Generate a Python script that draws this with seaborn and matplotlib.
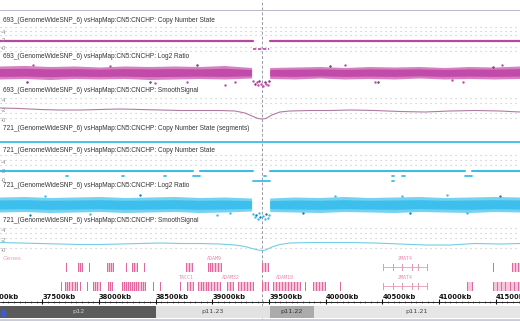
import numpy as np
import pandas as pd
import matplotlib
matplotlib.use('Agg')
import matplotlib.pyplot as plt
from matplotlib.patches import Rectangle
import seaborn as sns

sns.set_style('white')
plt.rcParams['font.family'] = ['Liberation Sans', 'DejaVu Sans']

# ---- data (chr8, positions in kb) ----
view_kb = [37127, 41713]
cursor_kb = 39437

# copy number segments (start, end, state)
cn693_segs = [(37127, 39358, 2), (39508, 41713, 2)]
cn693_del = [(39358, 39500, 0)]
seg721 = [(37127, 41713, 2)]
cn721_segs = [(37127, 38829, 2), (38891, 39358, 2), (39508, 41228, 2), (41290, 41713, 2)]
cn721_low = [(38829, 38891, 1), (41228, 41290, 1), (37712, 37724, 1), (38206, 38218, 1),
             (38576, 38588, 1), (39458, 39472, 1), (40588, 40598, 1), (40668, 40702, 1)]
cn721_zero = [(39358, 39508, 0), (40588, 40598, 0)]

# log2 ratio clouds: envelope of the dense point cloud
env_kb = [37127, 37350, 37570, 37790, 38010, 38230, 38450, 38670, 38890, 39110, 39350,
          39430, 39510, 39730, 39950, 40170, 40390, 40610, 40830, 41050, 41270, 41490, 41713]
hi693 = [1.3, 1.4, 1.2, 1.3, 1.1, 1.3, 1.2, 1.3, 1.2, 1.4, 1.0, np.nan,
         1.0, 1.1, 1.2, 1.0, 1.2, 1.1, 1.2, 1.0, 1.2, 1.1, 1.3]
lo693 = [-1.3, -1.2, -1.4, -1.2, -1.3, -1.2, -1.4, -1.3, -1.2, -1.3, -1.1, np.nan,
         -1.2, -1.3, -1.1, -1.3, -1.2, -1.3, -1.1, -1.3, -1.2, -1.3, -1.2]
hi721 = [1.5, 1.6, 1.4, 1.5, 1.6, 1.4, 1.5, 1.6, 1.4, 1.5, 1.3, np.nan,
         1.3, 1.5, 1.4, 1.6, 1.4, 1.5, 1.6, 1.4, 1.5, 1.6, 1.5]
lo721 = [-1.5, -1.4, -1.6, -1.5, -1.4, -1.6, -1.5, -1.4, -1.6, -1.5, -1.3, np.nan,
         -1.4, -1.5, -1.6, -1.4, -1.5, -1.6, -1.4, -1.5, -1.6, -1.4, -1.5]
out693_kb = [37365, 37418, 38097, 38450, 38494, 38776, 38864, 39111, 39199, 40037, 40169,
             40434, 40460, 41113, 41210, 41474, 41554,
             39360, 39375, 39390, 39400, 39415, 39425, 39450, 39465, 39475, 39490, 39500]
out693_v = [-1.8, 1.6, 1.4, -1.8, -2.0, -1.8, 1.6, -2.4, -1.8, 1.4, 1.6,
            -1.8, -1.8, -1.5, -1.8, 1.2, 1.6,
            -1.6, -2.2, -1.9, -2.5, -1.7, -2.3, -2.6, -1.8, -2.2, -2.4, -1.7]
out721_kb = [37392, 37524, 37921, 38362, 39040, 39155, 39799, 40081, 40672, 40742, 41069,
             41246, 41536,
             39360, 39372, 39385, 39398, 39410, 39422, 39450, 39462, 39475, 39488, 39500]
out721_v = [-2.0, 1.8, -1.8, 2.0, -2.0, -1.7, -1.7, 1.7, 1.8, -1.7, 2.0,
            -1.6, 1.8,
            -1.8, -2.4, -2.0, -2.8, -1.7, -2.5, -2.2, -2.9, -1.9, -2.6, -2.1]

# smoothed signal
smooth_kb = [37127, 37303, 37480, 37656, 37833, 38009, 38185, 38362, 38538, 38714, 38891,
             39067, 39199, 39287, 39349, 39402, 39437, 39472, 39525, 39596, 39684, 39860,
             40037, 40213, 40434, 40654, 40875, 41095, 41316, 41536, 41713]
smooth693 = [2.4, 2.3, 2.1, 2.0, 2.0, 2.1, 2.2, 2.1, 2.0, 1.9, 1.9, 1.9, 1.8, 1.4, 0.8, 0.3,
             0.2, 0.3, 1.0, 1.6, 1.8, 1.9, 1.9, 2.0, 1.9, 1.7, 1.6, 1.8, 1.9, 1.8, 1.6]
smooth721 = [1.5, 1.4, 1.3, 1.2, 1.1, 1.1, 1.2, 1.3, 1.4, 1.3, 1.3, 1.2, 1.0, 0.7, 0.3, 0.0,
             -0.1, 0.0, 0.6, 1.1, 1.4, 1.5, 1.5, 1.5, 1.4, 1.2, 1.0, 1.0, 1.3, 1.2, 1.3]

# genes
row1_spans = [(37815, 37850), (38071, 38124), (38291, 38335), (38767, 38829), (38962, 39076),
              (39437, 39490), (41643, 41713)]
row1_exons = [37709, 37815, 37833, 37850, 37912, 38071, 38088, 38106, 38124, 38238, 38291,
              38309, 38335, 38397, 38767, 38794, 38820, 38962, 38979, 38997, 39023, 39050,
              39076, 39437, 39464, 39490, 41475, 41643, 41669, 41695]
row2_spans = [(37700, 37806), (37947, 38009), (38080, 38115), (38203, 38406), (38776, 38829),
              (38873, 39067), (39129, 39182), (39226, 39358), (39437, 39490), (39534, 39773),
              (39887, 39993), (41246, 41290), (41475, 41713)]
row2_exons = [37665, 37700, 37718, 37736, 37762, 37788, 37806, 37833, 37894, 37947, 37965,
              37983, 38009, 38080, 38097, 38115, 38203, 38221, 38238, 38256, 38274, 38291,
              38309, 38327, 38344, 38371, 38388, 38406, 38476, 38538, 38714, 38776, 38803,
              38829, 38873, 38900, 38917, 38944, 38962, 38988, 39014, 39041, 39067, 39129,
              39155, 39182, 39226, 39252, 39279, 39305, 39332, 39358, 39437, 39464, 39490,
              39534, 39561, 39587, 39614, 39640, 39667, 39693, 39720, 39746, 39773, 39817,
              39887, 39914, 39940, 39967, 39993, 40125, 41246, 41290, 41475, 41510, 41545,
              41580, 41625, 41660, 41695]
zmat4_span = (40505, 40893)
zmat4_exons = [40505, 40593, 40672, 40760, 40813, 40893]
gene_labels = [('ADAM9', 39020, 1), ('ZMAT4', 40700, 1), ('TACC1', 38770, 2),
               ('ADAM32', 39160, 2), ('ADAM18', 39640, 2), ('ZMAT4', 40700, 2)]

ruler_ticks = [37000, 37500, 38000, 38500, 39000, 39500, 40000, 40500, 41000, 41500]
bands = ['p12', 'p11.23', 'p11.22', 'p11.21']
band_start = [36500, 38503, 39508, 39896]
band_end = [38503, 39508, 39896, 43100]

track_titles = [
    '693_(GenomeWideSNP_6) vsHapMap:CN5:CNCHP: Copy Number State',
    '693_(GenomeWideSNP_6) vsHapMap:CN5:CNCHP: Log2 Ratio',
    '693_(GenomeWideSNP_6) vsHapMap:CN5:CNCHP: SmoothSignal',
    '721_(GenomeWideSNP_6) vsHapMap:CN5:CNCHP: Copy Number State (segments)',
    '721_(GenomeWideSNP_6) vsHapMap:CN5:CNCHP: Copy Number State',
    '721_(GenomeWideSNP_6) vsHapMap:CN5:CNCHP: Log2 Ratio',
    '721_(GenomeWideSNP_6) vsHapMap:CN5:CNCHP: SmoothSignal',
]

# ---- style ----
W, H = 520, 321
MAG = '#b8479e'
MAG_PT = '#c24aa8'
MAG_SM = '#b07ca2'
CYA = '#3bbde8'
CYA_PT = '#3cbfec'
CYA_SM = '#74cde2'
GRIDC = '#c4c4c4'
PINK = '#e3679f'
PINK_L = '#f6c7db'

fig = plt.figure(figsize=(W / 100, H / 100), dpi=100)


def track(top, bottom):
    return fig.add_axes([0, 1 - bottom / H, 1, (bottom - top) / H])


def finish(ax, top, bottom, y0, s):
    ax.set_xlim(*view_kb)
    ax.set_ylim((y0 - bottom) / s, (y0 - top) / s)
    ax.axis('off')


def seg_df(segs):
    rows = [(i, x, v) for i, (a, b, v) in enumerate(segs) for x in (a, b)]
    return pd.DataFrame(rows, columns=['seg', 'kb', 'cn'])


def draw_segs(ax, segs, color, lw, **kw):
    sns.lineplot(data=seg_df(segs), x='kb', y='cn', units='seg', estimator=None,
                 color=color, lw=lw, ax=ax, legend=False, **kw)


def dotted_rows(ax, levels):
    for v in levels:
        ax.axhline(v, color=GRIDC, lw=0.8, ls=(0, (1, 3.5)), zorder=0)


def scale(ax, labels):
    for lab in labels:
        ax.text(view_kb[0] + 8, lab, '-' + str(lab), fontsize=4.3, color='#888888',
                va='center', ha='left')


def cloud(ax, hi, lo, color, pts_kb, pts_v, dark):
    ax.fill_between(env_kb, lo, hi, color=color, alpha=0.7, lw=0)
    core_hi = [h * 0.6 for h in hi]
    core_lo = [l * 0.6 for l in lo]
    ax.fill_between(env_kb, core_lo, core_hi, color=color, alpha=1.0, lw=0)
    sns.scatterplot(x=pts_kb, y=pts_v, color=color, s=3, linewidth=0, ax=ax)
    sns.scatterplot(x=pts_kb[::3], y=pts_v[::3], color=dark, s=2, linewidth=0, ax=ax)


# track 1: 693 copy number state
ax = track(23, 52)
dotted_rows(ax, [5.5, 4.5, 3.5, 0.5, -0.5])
draw_segs(ax, cn693_segs, MAG, 1.6)
draw_segs(ax, cn693_del, MAG, 1.2, dashes=(2, 1))
scale(ax, [4, 2, 0])
finish(ax, 23, 52, 48.5, 4)

# track 2: 693 log2 ratio
ax = track(60, 89)
cloud(ax, hi693, lo693, MAG_PT, out693_kb, out693_v, '#6a4a6a')
finish(ax, 60, 89, 73, 5)

# track 3: 693 smooth signal
ax = track(95, 124)
dotted_rows(ax, [4.5, 3.5, 1.5, 0.5])
sns.lineplot(x=smooth_kb, y=smooth693, color=MAG_SM, lw=0.8, ax=ax)
scale(ax, [4, 2, 0])
finish(ax, 95, 124, 120, 5)

# track 4: 721 segments
ax = track(132, 148)
draw_segs(ax, seg721, CYA, 1.3)
finish(ax, 132, 148, 151.2, 4.6)

# track 5: 721 copy number state
ax = track(153, 184)
dotted_rows(ax, [5.5, 4.5, 3.5])
draw_segs(ax, cn721_segs, CYA, 1.5)
draw_segs(ax, cn721_low, CYA, 1.3)
draw_segs(ax, cn721_zero, CYA, 1.3)
scale(ax, [4, 2, 0])
finish(ax, 153, 184, 180.7, 4.6)

# track 6: 721 log2 ratio
ax = track(190, 220)
cloud(ax, hi721, lo721, CYA_PT, out721_kb, out721_v, '#2a70a8')
finish(ax, 190, 220, 205, 5)

# track 7: 721 smooth signal
ax = track(225, 254)
dotted_rows(ax, [4.5, 3.5, 2.5, 0.5])
sns.lineplot(x=smooth_kb, y=smooth721, color=CYA_SM, lw=0.8, ax=ax)
scale(ax, [4, 2, 0])
finish(ax, 225, 254, 250, 5)

# gene track
ax = track(255, 294)
for row, spans, exons, top in [(1, row1_spans, row1_exons, 263), (2, row2_spans, row2_exons, 282)]:
    ax.bar([a for a, b in spans], 9, width=[b - a for a, b in spans], bottom=top,
           align='edge', color=PINK_L, lw=0)
    ax.bar(exons, 9, width=11, bottom=top, align='edge', color=PINK, lw=0)
    ax.plot(zmat4_span, [top + 4.5] * 2, color='#e79ab8', lw=0.6)
    ax.bar(zmat4_exons, 7, width=9, bottom=top + 1, align='edge', color='#e79ab8', lw=0)
for name, kb, row in gene_labels:
    ax.text(kb, 259 if row == 1 else 278, name, fontsize=3.6, color='#e88ab0',
            ha='center', va='center', family='DejaVu Sans Mono')
ax.set_xlim(*view_kb)
ax.set_ylim(294, 255)
ax.axis('off')

# ruler
ax = track(294, 306)
ax.axhline(302, color='#222222', lw=0.7)
ax.vlines(np.arange(37000, 41750, 50), 301, 303.5, color='#222222', lw=0.4)
ax.vlines(ruler_ticks, 299.5, 304.5, color='#111111', lw=0.8)
for t in ruler_ticks:
    ax.text(t, 297.3, f'{t}kb', fontsize=4.9, fontweight='bold', color='#111111',
            ha='left', va='center', family='DejaVu Sans')
ax.set_xlim(*view_kb)
ax.set_ylim(306, 294)
ax.axis('off')

# ideogram
ax = track(306, 321)
band_col = ['#5b5b5b', '#e2e2e2', '#ababab', '#e6e6e6']
txt_col = ['#cfcfcf', '#444444', '#333333', '#444444']
ax.barh([312] * 4, [e - s for s, e in zip(band_start, band_end)], left=band_start,
        height=12, color=band_col, lw=0)
for name, s, e, c in zip(bands, band_start, band_end, txt_col):
    mid = (max(s, view_kb[0]) + min(e, view_kb[1])) / 2
    ax.text(mid, 312, name, fontsize=4.6, color=c, ha='center', va='center',
            family='DejaVu Sans')
ax.axhline(319.5, color='#c9cbd6', lw=2)
ax.set_xlim(*view_kb)
ax.set_ylim(321, 306)
ax.axis('off')

# overlay: cursor line and top border
ax = fig.add_axes([0, 0, 1, 1], zorder=-1)
ax.axvline(cursor_kb, color='#9a9aa8', lw=0.7, ls=(0, (3, 2)))
ax.axhline(10, color='#b8b8c8', lw=0.7)
ax.set_xlim(*view_kb)
ax.set_ylim(H, 0)
ax.axis('off')

for title, y in zip(track_titles, [20, 56, 91, 128, 150, 186, 221]):
    fig.text(3 / W, 1 - y / H, title, fontsize=4.7, color='#333333', va='center', ha='left')
fig.text(3 / W, 1 - 258 / H, 'Genes', fontsize=4.6, color='#eaa2c2', va='center', ha='left')
fig.patches.append(Rectangle((1 / W, 1 - 316 / H), 4 / W, 6 / H, transform=fig.transFigure,
                             color='#3a5fcd', zorder=5))

fig.savefig('out.png', dpi=100, facecolor='white')
